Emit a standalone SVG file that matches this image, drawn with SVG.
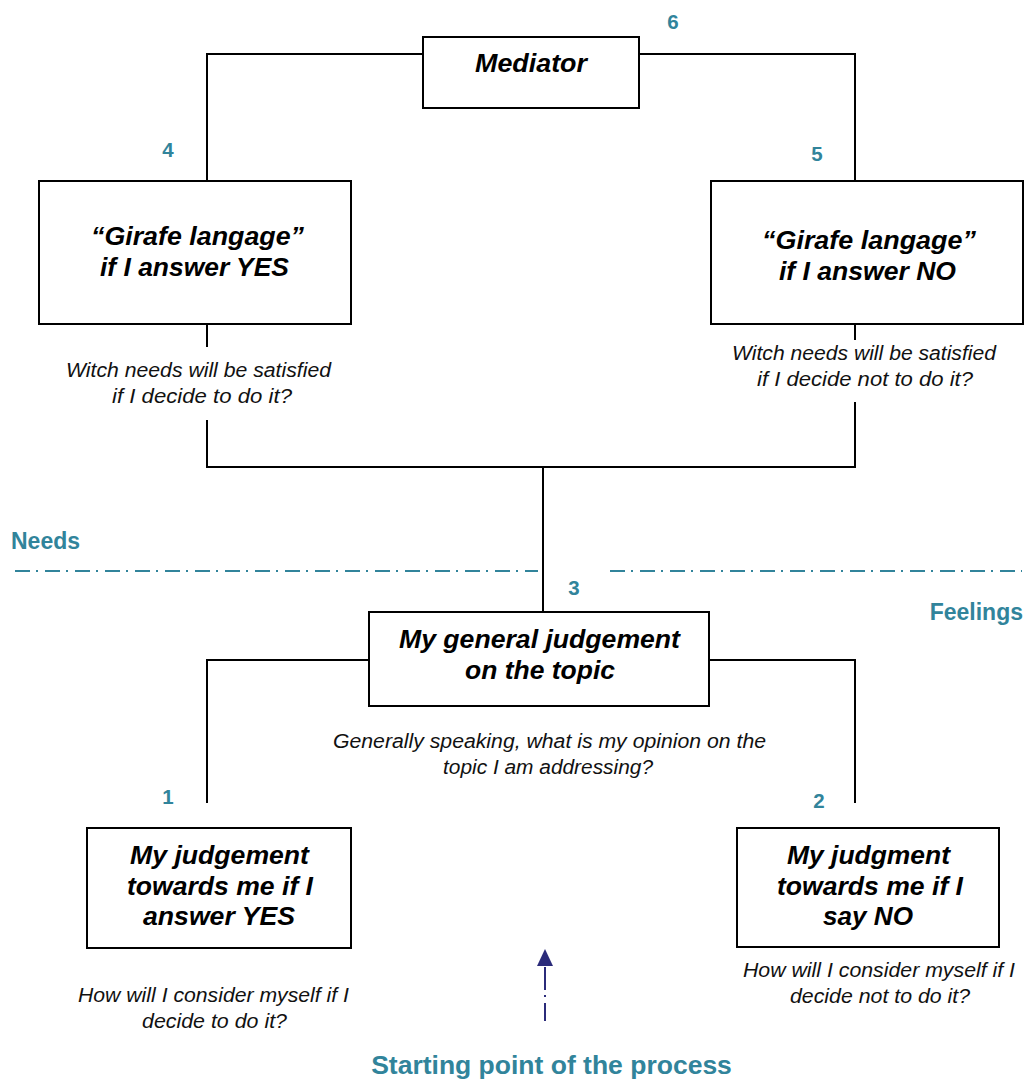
<svg xmlns="http://www.w3.org/2000/svg" width="1024" height="1080" viewBox="0 0 1024 1080">
<style>
.box{fill:#fff;stroke:#000;stroke-width:2}
.ln{stroke:#000;stroke-width:2;fill:none}
.bt{font-family:"Liberation Sans",Arial,sans-serif;font-size:25.5px;font-weight:bold;font-style:italic;fill:#000;text-anchor:middle}
.nt{font-family:"Liberation Sans",Arial,sans-serif;font-size:20px;font-style:italic;fill:#111;text-anchor:middle}
.num{font-family:"Liberation Sans",Arial,sans-serif;font-size:20.5px;font-weight:bold;fill:#31849b;text-anchor:middle}
.lab{font-family:"Liberation Sans",Arial,sans-serif;font-size:23px;font-weight:bold;fill:#31849b}
.big{font-size:26.5px;text-anchor:middle}
.sep{stroke:#31849b;stroke-width:2;stroke-dasharray:15 6 2 7;fill:none}
</style>
<g id="connectors">
<path class="ln" d="M207,181 V54 H423"/>
<path class="ln" d="M639,54 H855 V181"/>
<path class="ln" d="M207,324 V347"/>
<path class="ln" d="M207,420 V467 H855 V402"/>
<path class="ln" d="M855,324 V340"/>
<path class="ln" d="M543,467 V612"/>
<path class="ln" d="M369,660 H207 V803"/>
<path class="ln" d="M709,660 H855 V803"/>
<path class="sep" d="M15,571 H538"/>
<path class="sep" d="M610,571 H1022"/>
<path d="M545,967 V1021" stroke="#2b2b7a" stroke-width="2" stroke-dasharray="23 5 2 6" fill="none"/>
<path d="M537,966 L545,949 L553,966 Z" fill="#2b2b7a"/>
</g>
<g id="node-mediator">
<rect class="box" x="423" y="37" width="216" height="71"/>
<text class="bt" x="531" y="72" textLength="112" lengthAdjust="spacingAndGlyphs">Mediator</text>
</g>
<g id="node-girafe-yes">
<rect class="box" x="39" y="181" width="312" height="143"/>
<text class="bt" x="197.5" y="245" textLength="213" lengthAdjust="spacingAndGlyphs">“Girafe langage”</text>
<text class="bt" x="194.5" y="276" textLength="189" lengthAdjust="spacingAndGlyphs">if I answer YES</text>
</g>
<g id="node-girafe-no">
<rect class="box" x="711" y="181" width="312" height="143"/>
<text class="bt" x="869" y="249" textLength="214" lengthAdjust="spacingAndGlyphs">“Girafe langage”</text>
<text class="bt" x="867.5" y="280" textLength="177" lengthAdjust="spacingAndGlyphs">if I answer NO</text>
</g>
<g id="node-general">
<rect class="box" x="369" y="612" width="340" height="94"/>
<text class="bt" x="539.5" y="648" textLength="281" lengthAdjust="spacingAndGlyphs">My general judgement</text>
<text class="bt" x="540" y="679" textLength="150" lengthAdjust="spacingAndGlyphs">on the topic</text>
</g>
<g id="node-yes">
<rect class="box" x="87" y="828" width="264" height="120"/>
<text class="bt" x="219.5" y="864" textLength="179" lengthAdjust="spacingAndGlyphs">My judgement</text>
<text class="bt" x="220" y="895" textLength="186" lengthAdjust="spacingAndGlyphs">towards me if I</text>
<text class="bt" x="219" y="925" textLength="152" lengthAdjust="spacingAndGlyphs">answer YES</text>
</g>
<g id="node-no">
<rect class="box" x="737" y="828" width="262" height="119"/>
<text class="bt" x="868.5" y="864" textLength="163" lengthAdjust="spacingAndGlyphs">My judgment</text>
<text class="bt" x="870" y="895" textLength="186" lengthAdjust="spacingAndGlyphs">towards me if I</text>
<text class="bt" x="868" y="925" textLength="90" lengthAdjust="spacingAndGlyphs">say NO</text>
</g>
<g id="notes">
<text class="nt" x="198.5" y="377" textLength="265" lengthAdjust="spacingAndGlyphs">Witch needs will be satisfied</text>
<text class="nt" x="202" y="403" textLength="180" lengthAdjust="spacingAndGlyphs">if I decide to do it?</text>
<text class="nt" x="864" y="360" textLength="264" lengthAdjust="spacingAndGlyphs">Witch needs will be satisfied</text>
<text class="nt" x="865" y="386" textLength="216" lengthAdjust="spacingAndGlyphs">if I decide not to do it?</text>
<text class="nt" x="549.5" y="748" textLength="433" lengthAdjust="spacingAndGlyphs">Generally speaking, what is my opinion on the</text>
<text class="nt" x="548" y="774" textLength="210" lengthAdjust="spacingAndGlyphs">topic I am addressing?</text>
<text class="nt" x="213.5" y="1002" textLength="271" lengthAdjust="spacingAndGlyphs">How will I consider myself if I</text>
<text class="nt" x="214.5" y="1028" textLength="145" lengthAdjust="spacingAndGlyphs">decide to do it?</text>
<text class="nt" x="879" y="977" textLength="272" lengthAdjust="spacingAndGlyphs">How will I consider myself if I</text>
<text class="nt" x="880" y="1003" textLength="180" lengthAdjust="spacingAndGlyphs">decide not to do it?</text>
</g>
<g id="labels">
<text class="num" x="673" y="29">6</text>
<text class="num" x="168" y="157">4</text>
<text class="num" x="817" y="161">5</text>
<text class="num" x="574" y="595">3</text>
<text class="num" x="168" y="804">1</text>
<text class="num" x="819" y="808">2</text>
<text class="lab" x="11" y="549">Needs</text>
<text class="lab" x="1023" y="620" text-anchor="end">Feelings</text>
<text class="lab big" x="551.5" y="1074">Starting point of the process</text>
</g>
</svg>
